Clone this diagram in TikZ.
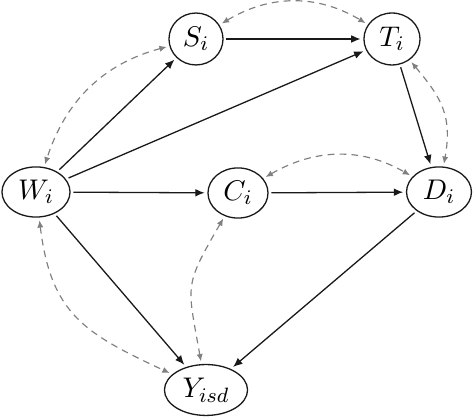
\documentclass[tikz,border=0pt]{standalone}
\usetikzlibrary{shapes.geometric,arrows.meta}
\begin{document}
\begin{tikzpicture}[x=0.385pt,y=-0.385pt,
  var/.style={draw=black!90,ellipse,inner sep=0pt,outer sep=1.3pt,line width=0.5pt,font=\fontsize{11}{13}\selectfont},
  edge/.style={-{Latex[length=3.6pt,width=3pt]}, line width=0.5pt, black!90},
  conf/.style={{Latex[length=2.8pt,width=2.4pt]}-{Latex[length=2.8pt,width=2.4pt]}, black!50, line width=0.45pt, dash pattern=on 2.6pt off 2pt}]
\useasboundingbox (0,0) rectangle (474,417);
\node[var,minimum width=20.8pt,minimum height=20pt] (S) at (196,39) {$S_i$};
\node[var,minimum width=21.6pt,minimum height=20pt] (T) at (392,39) {$T_i$};
\node[var,minimum width=26.2pt,minimum height=19.3pt] (W) at (36,192) {$W_i$};
\node[var,minimum width=23.1pt,minimum height=19.3pt] (C) at (238,193) {$C_i$};
\node[var,minimum width=25pt,minimum height=19.3pt] (D) at (439,192) {$D_i$};
\node[var,minimum width=32pt,minimum height=19.6pt] (Y) at (206,390) {$Y_{isd}$};
\draw[edge] (W) -- (S);
\draw[edge] (W) -- (T);
\draw[edge] (W) -- (C);
\draw[edge] (W) -- (Y);
\draw[edge] (S) -- (T);
\draw[edge] (T) -- (D);
\draw[edge] (C) -- (D);
\draw[edge] (D) -- (Y);
\draw[conf] (S) to[out=31,in=149] (T);
\draw[conf] (S) to[out=195,in=72] (W);
\draw[conf] (W) to[out=-83,in=155,looseness=1.2] (Y);
\draw[conf] (C) to[out=30,in=150] (D);
\draw[conf] (C) to[out=240,in=100,looseness=1.4] (Y);
\draw[conf] (T) to[out=-50,in=80,looseness=1.15] (D);
\end{tikzpicture}
\end{document}
